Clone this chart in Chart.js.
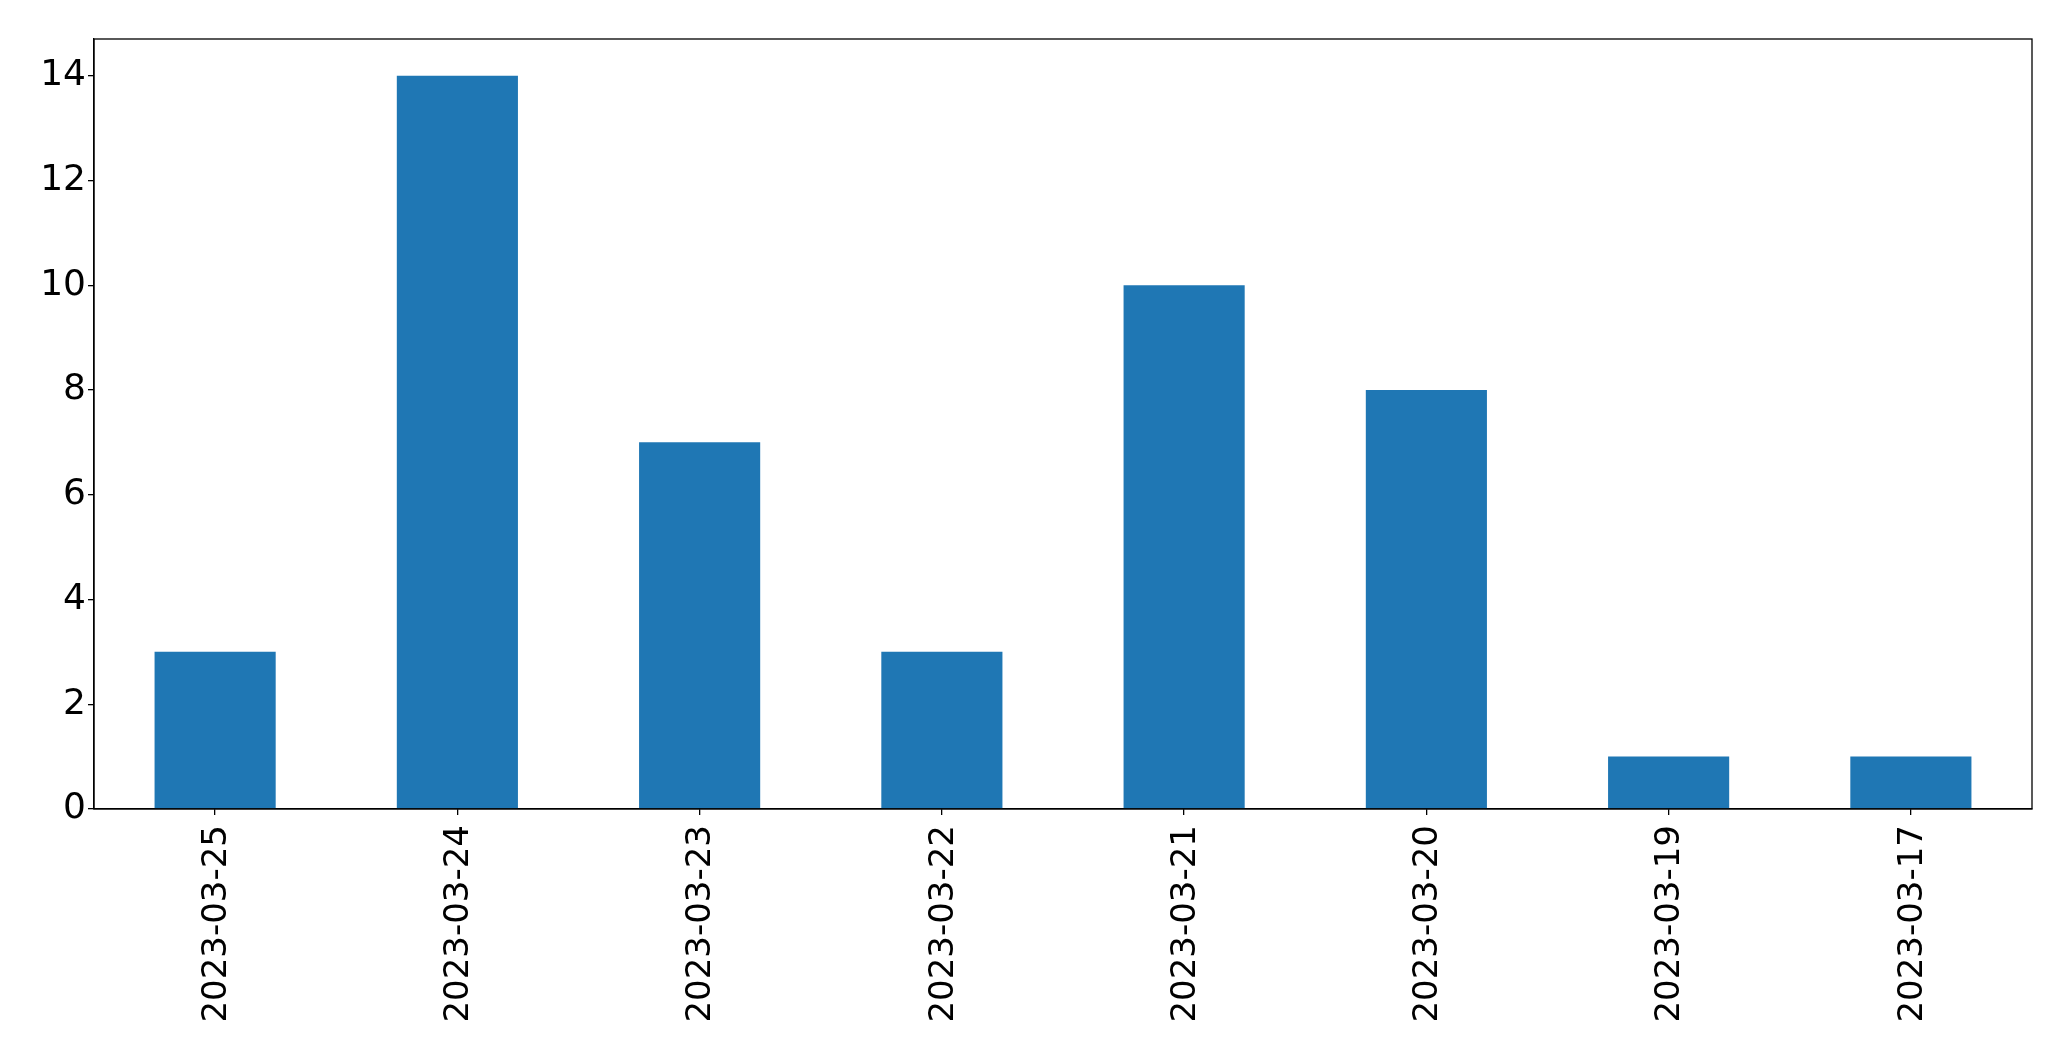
<!DOCTYPE html>
<html>
<head>
<meta charset="utf-8">
<script src="https://cdn.jsdelivr.net/npm/chart.js@4/dist/chart.umd.min.js"></script>
<style>
html,body{margin:0;padding:0;background:#fff;}
#wrap{width:2071px;height:1061px;}
</style>
</head>
<body>
<div id="wrap"><canvas id="c" width="2071" height="1061"></canvas></div>
<script>
const categories = ["2023-03-25","2023-03-24","2023-03-23","2023-03-22","2023-03-21","2023-03-20","2023-03-19","2023-03-17"];
const values = [3,14,7,3,10,8,1,1];
const yTicks = [0,2,4,6,8,10,12,14];
const yMax = 14.7;

const frame = {
  id:'frame',
  afterDraw(chart){
    const a = chart.chartArea, ctx = chart.ctx;
    ctx.save();
    ctx.strokeStyle = '#000';
    ctx.lineWidth = 1.3;
    ctx.strokeRect(a.left, a.top, a.right - a.left, a.bottom - a.top);
    ctx.restore();
  }
};

new Chart(document.getElementById('c'), {
  type:'bar',
  data:{labels:categories, datasets:[{data:values, backgroundColor:'#1f77b4', borderWidth:0, categoryPercentage:1, barPercentage:0.5}]},
  options:{
    responsive:false, animation:false, devicePixelRatio:1,
    layout:{padding:{top:39, right:39, left:0, bottom:0}},
    plugins:{legend:{display:false}, tooltip:{enabled:false}},
    scales:{
      x:{
        offset:true,
        grid:{display:true, offset:false, drawOnChartArea:false, drawTicks:true, tickLength:6, color:'#000', lineWidth:1.3},
        border:{display:true, color:'#000', width:1.3},
        ticks:{color:'#000', font:{family:'DejaVu Sans', size:34}, minRotation:90, maxRotation:90, padding:10, autoSkip:false, labelOffset:2},
        afterFit(s){ s.height = 252; }
      },
      y:{
        min:0, max:yMax,
        grid:{display:true, drawOnChartArea:false, drawTicks:true, tickLength:6, color:'#000', lineWidth:1.3},
        border:{display:true, color:'#000', width:1.3},
        afterBuildTicks(s){ s.ticks = yTicks.map(v=>({value:v})); },
        ticks:{color:'#000', font:{family:'DejaVu Sans', size:36}, padding:2},
        afterFit(s){ s.width = 94; }
      }
    }
  },
  plugins:[frame]
});
</script>
</body>
</html>
